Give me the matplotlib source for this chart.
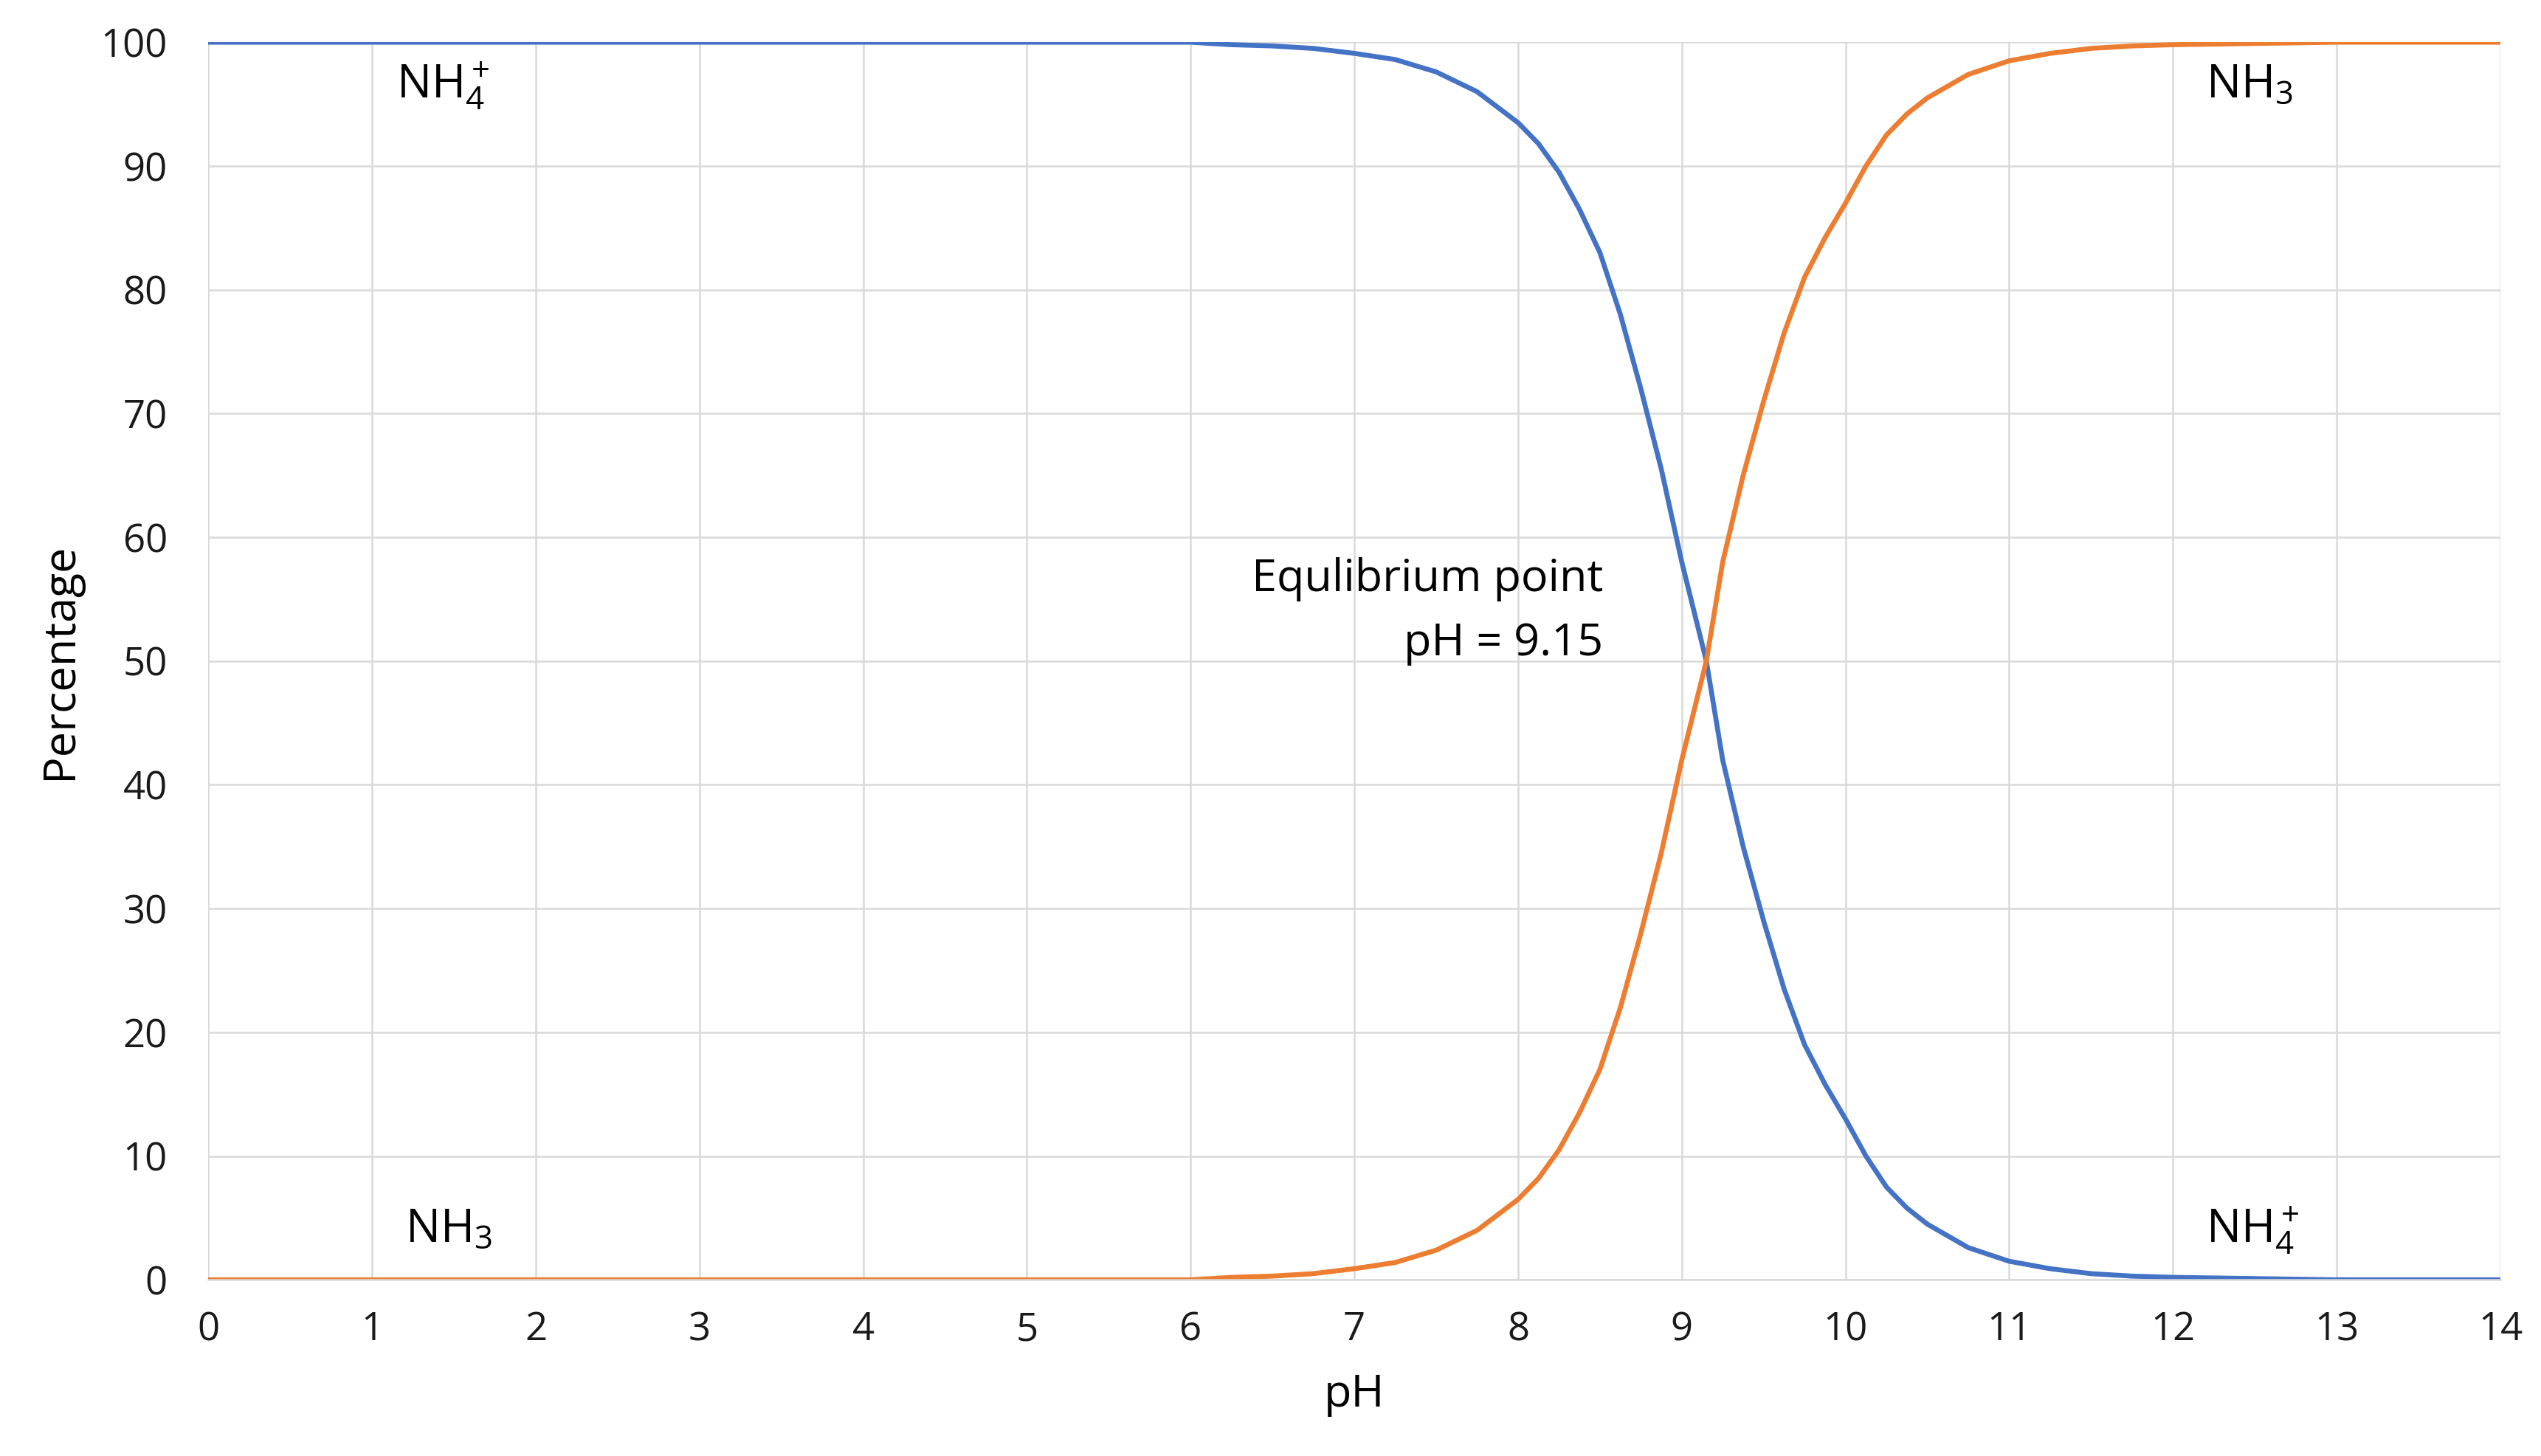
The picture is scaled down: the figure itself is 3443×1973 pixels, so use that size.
import matplotlib.pyplot as plt

plt.rcParams['font.family'] = ['Open Sans', 'DejaVu Sans']
plt.rcParams['mathtext.fontset'] = 'custom'
plt.rcParams['mathtext.rm'] = 'Open Sans'
plt.rcParams['mathtext.it'] = 'Open Sans'

# values
ph = [0, 1, 2, 3, 4, 5, 6, 6.25, 6.5, 6.75, 7, 7.25, 7.5, 7.75, 8, 8.125,
      8.25, 8.375, 8.5, 8.625, 8.75, 8.875, 9, 9.15, 9.25, 9.375, 9.5, 9.625,
      9.75, 9.875, 10, 10.125, 10.25, 10.375, 10.5, 10.75, 11, 11.25, 11.5,
      11.75, 12, 13, 14]
nh4 = [100, 100, 100, 100, 100, 100, 100, 99.8, 99.7, 99.5, 99.1, 98.6, 97.6,
       96.0, 93.5, 91.8, 89.5, 86.5, 83, 78, 72, 65.5, 58, 50, 42, 35, 29,
       23.5, 19, 15.8, 13, 10, 7.5, 5.8, 4.5, 2.6, 1.5, 0.9, 0.5, 0.3, 0.2,
       0, 0]
nh3 = [100 - v for v in nh4]

BLUE = "#4472C4"
ORANGE = "#ED7D31"

fig = plt.figure(figsize=(34.43, 19.73), dpi=100)
ax = fig.add_axes([0.082, 0.121, 0.902, 0.85])
ax.plot(ph, nh4, color=BLUE, lw=4.8, solid_joinstyle="round")
ax.plot(ph, nh3, color=ORANGE, lw=4.8, solid_joinstyle="round")

ax.set_xlim(0, 14)
ax.set_ylim(0, 100)
ax.set_xticks(range(0, 15))
ax.set_yticks(range(0, 101, 10))
ax.grid(color="#D9D9D9", lw=1.8)
ax.set_axisbelow(True)
for s in ["top", "right", "left"]:
    ax.spines[s].set_visible(False)
ax.spines["bottom"].set_color("#D9D9D9")
ax.spines["bottom"].set_linewidth(1.8)
ax.tick_params(length=0, labelsize=38, colors="#1a1a1a", pad=30)
ax.tick_params(axis="y", pad=40)
ax.set_xlabel("pH", fontsize=44, labelpad=22)
ax.set_ylabel("Percentage", fontsize=44, labelpad=18)

fs = 45
ax.text(1.15, 96.5, r"NH$_4^+$", fontsize=fs, va="center")
ax.text(12.2, 96.5, r"NH$_3$", fontsize=fs, va="center")
ax.text(1.2, 4, r"NH$_3$", fontsize=fs, va="center")
ax.text(12.2, 4, r"NH$_4^+$", fontsize=fs, va="center")
ax.text(8.52, 56.6, "Equlibrium point", fontsize=44, ha="right", va="center")
ax.text(8.52, 51.4, "pH = 9.15", fontsize=44, ha="right", va="center")

fig.savefig("out.png", dpi=100, facecolor="white")
